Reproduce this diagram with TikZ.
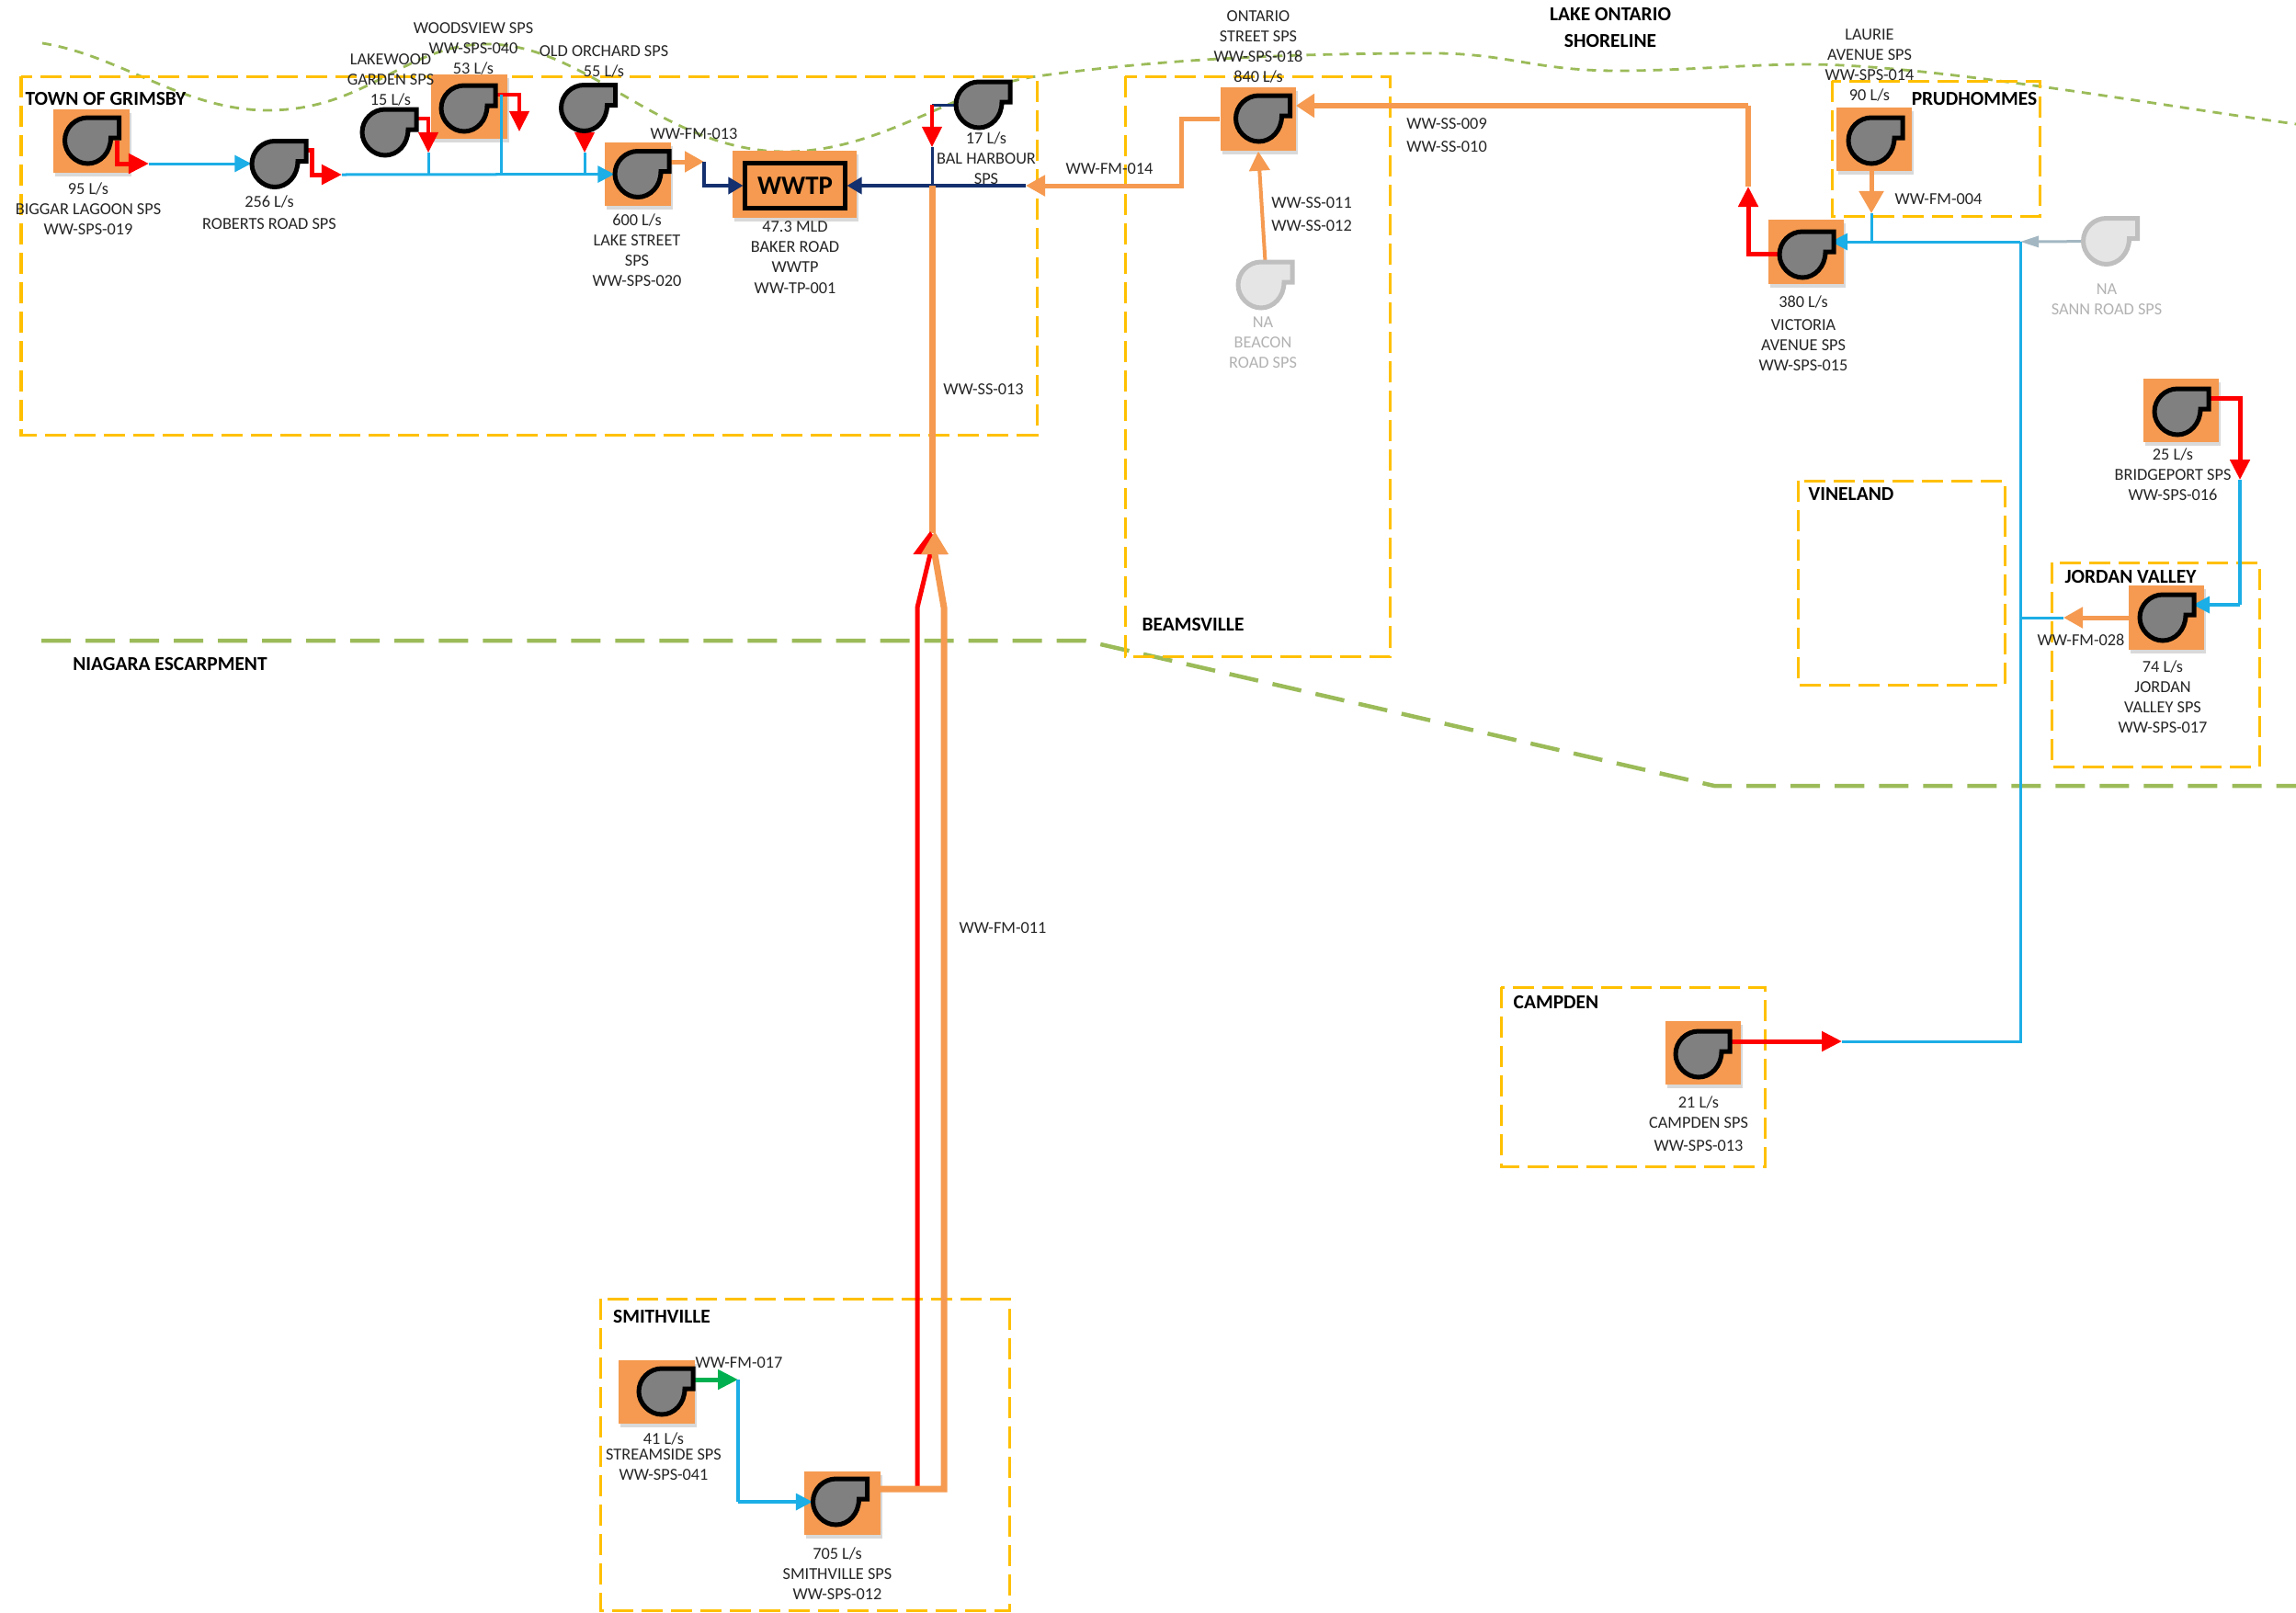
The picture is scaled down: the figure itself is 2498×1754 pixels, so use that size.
\documentclass[tikz,border=0pt]{standalone}
\usepackage{fontspec}
\setmainfont{Carlito}
\usetikzlibrary{arrows.meta,shadows}
\definecolor{pumporange}{HTML}{F59A50}
\definecolor{regionyellow}{HTML}{FFC000}
\definecolor{shoregreen}{HTML}{9BBB59}
\definecolor{pipecyan}{HTML}{1CAEE6}
\definecolor{pipenavy}{HTML}{14306E}
\definecolor{pipegreen}{HTML}{00B050}
\definecolor{pipegrey}{HTML}{A3B7C2}
\tikzset{
  pumpdark/.style={draw=black,fill=black!50,line width=.05cm},
  pumpgrey/.style={draw=black!25,fill=black!10,line width=.05cm},
  pics/pumpglyph/.style={code={
    \draw[#1] (-4.5,-25) -- (29.5,-25) -- (29.5,-3) -- (20.5,-3)
      .. controls (20.5,13) and (9,25) .. (-4.5,25)
      .. controls (-18,25) and (-29.5,13) .. (-29.5,0)
      .. controls (-29.5,-14) and (-18,-25) .. (-4.5,-25) -- cycle;
  }},
  pics/pumpglyph/.default=pumpdark,
  pumpnode/.style={rectangle,inner sep=0,minimum width=.59cm,minimum height=.5cm},
  pumpbox/.style={rectangle,inner sep=0,fill=pumporange,minimum width=.82cm,minimum height=.69cm,
    drop shadow={shadow xshift=.02cm,shadow yshift=-.04cm,opacity=.3}},
  regionbox/.style={draw=regionyellow,line width=.03cm,dash pattern=on .23cm off .09cm},
  sitelabel/.style={align=center,inner sep=0,font=\fontsize{5.2}{6.3}\selectfont,text=black!85},
  greylabel/.style={sitelabel,text=black!30},
  regionlabel/.style={align=center,inner sep=0,font=\fontsize{6.1}{7.4}\selectfont\bfseries},
  redpipe/.style={draw=red,line width=.05cm},
  orangepipe/.style={draw=pumporange,line width=.05cm},
  cyanpipe/.style={draw=pipecyan,line width=.03cm},
  navypipe/.style={draw=pipenavy,line width=.03cm},
  tipred/.style={-{Triangle[length=.22cm,width=.21cm]}},
  tipcyan/.style={-{Triangle[length=.18cm,width=.18cm]}},
  tipnavy/.style={-{Triangle[length=.16cm,width=.18cm]}},
  tiporange/.style={-{Triangle[length=.21cm,width=.22cm]}}
}
\begin{document}
\begin{tikzpicture}[x=.01cm,y=-.01cm]
\useasboundingbox (0,0) rectangle (2498,1754);
\draw[shoregreen,line width=.028cm,dash pattern=on .1cm off .08cm] (46,47) .. controls (130,60) and (200,120) .. (291,120)
  .. controls (400,120) and (440,48) .. (530,48) .. controls (640,48) and (720,165) .. (855,165)
  .. controls (960,165) and (1040,95) .. (1128,83) .. controls (1280,62) and (1430,58) .. (1560,58)
  .. controls (1640,58) and (1670,77) .. (1760,77) .. controls (1830,77) and (1900,70) .. (1965,70)
  .. controls (2100,70) and (2350,115) .. (2498,135);
\draw[shoregreen,line width=.045cm,dash pattern=on .32cm off .16cm] (45,697) -- (1180,697) -- (1865,855) -- (2498,855);
\draw[regionbox] (23,83) rectangle (1128,473);
\draw[regionbox] (1224,83) rectangle (1512,714);
\draw[regionbox] (1993,88) rectangle (2219,235);
\draw[regionbox] (1956,523) rectangle (2181,745);
\draw[regionbox] (2232,612) rectangle (2458,834);
\draw[regionbox] (1633,1074) rectangle (1920,1269);
\draw[regionbox] (653,1413) rectangle (1098,1752);
% orange squares
\node[pumpbox] (biggarbox) at (99.5,153.5) {};
\node[pumpbox] (woodsviewbox) at (510.5,116) {};
\node[pumpbox,minimum width=.72cm] (lakestreetbox) at (694,189.5) {};
\node[pumpbox,minimum width=1.35cm,minimum height=.73cm] (wwtpbox) at (864.5,200.5) {};
\node[pumpbox] (ontariobox) at (1369,129.5) {};
\node[pumpbox] (lauriebox) at (2039,151.5) {};
\node[pumpbox] (victoriabox) at (1964.5,274) {};
\node[pumpbox] (bridgeportbox) at (2373,446.5) {};
\node[pumpbox] (jordanbox) at (2357,672) {};
\node[pumpbox] (streamsidebox) at (714.5,1514.5) {};
\node[pumpbox] (smithvillebox) at (916.5,1635.5) {};
\node[pumpbox] (campdenbox) at (1853,1145) {};
% pumps
\node[pumpnode] (biggar) at (100,153) {};
\node[pumpnode] (roberts) at (303.5,178.5) {};
\node[pumpnode] (lakewood) at (423.5,144) {};
\node[pumpnode] (woodsview) at (509.5,118) {};
\node[pumpnode] (oldorchard) at (640,117.5) {};
\node[pumpnode] (lakestreet) at (698.5,189.5) {};
\node[pumpnode] (balharbour) at (1069.5,114) {};
\node[pumpnode] (ontario) at (1374,129) {};
\node[pumpnode] (beacon) at (1376.5,310) {};
\node[pumpnode] (laurie) at (2040.5,153) {};
\node[pumpnode] (victoria) at (1965.5,277) {};
\node[pumpnode] (sann) at (2296,262.5) {};
\node[pumpnode] (bridgeport) at (2373.5,448) {};
\node[pumpnode] (jordan) at (2357.5,672) {};
\node[pumpnode] (streamside) at (724.5,1514) {};
\node[pumpnode] (smithville) at (914,1634) {};
\node[pumpnode] (campden) at (1852.5,1147) {};
\node[draw=black,line width=.05cm,fill=pumporange,minimum width=1.08cm,minimum height=.48cm,inner sep=0,font=\fontsize{8.2}{10}\selectfont\bfseries] (wwtp) at (865,202) {WWTP};
% junctions
\coordinate (biggarout) at (127,153);
\coordinate (biggarjn) at (162,178);
\coordinate (robertsout) at (330,163);
\coordinate (robertsjn) at (372,190);
\coordinate (lakewoodout) at (450,129);
\coordinate (lakewoodjn) at (466,166);
\coordinate (lakewoodtee) at (466,190);
\coordinate (woodsviewout) at (536,103);
\coordinate (woodsviewend) at (565,143);
\coordinate (woodsviewtap) at (545,103);
\coordinate (woodsviewtee) at (545,190);
\coordinate (orchardjn) at (636,166);
\coordinate (orchardtee) at (636,190);
\coordinate (lakestreetout) at (727,176);
\coordinate (lakestreetjn) at (766,176);
\coordinate (harbourjn) at (1014,160);
\coordinate (harbourtee) at (1014,202);
\coordinate (fm014end) at (1116,202);
\coordinate (fm014bend) at (1285,202);
\coordinate (ssapex) at (1014,580);
\coordinate (victoriaout) at (1938,276);
\coordinate (victoriajn) at (1902,203);
\coordinate (ss009bend) at (1902,115);
\coordinate (ss009end) at (1410,115);
\coordinate (lauriejn) at (2036,232);
\coordinate (laurietee) at (2036,263);
\coordinate (sannjn) at (2198,263);
\coordinate (jordanjn) at (2245,672);
\coordinate (jordantee) at (2198,672);
\coordinate (campdenjn) at (2004,1133);
\coordinate (campdenbend) at (2198,1133);
\coordinate (bridgeportout) at (2400,433);
\coordinate (bridgeportjn) at (2437,522);
\coordinate (bridgeportbend) at (2437,658);
\coordinate (jordanin) at (2386,658);
\coordinate (streamsideout) at (750,1501);
\coordinate (streamsidejn) at (803,1501);
\coordinate (streamsidebend) at (803,1634);
% pipes
\draw[redpipe,tipred] (biggarout) |- (biggarjn);
\draw[cyanpipe,tipcyan] (biggarjn) -- (roberts.west |- biggarjn);
\draw[redpipe,tipred] (robertsout) -| (339,190) -- (robertsjn);
\draw[cyanpipe,tipcyan] (robertsjn) -- (lakestreet);
\draw[redpipe,line width=.04cm,tipred] (lakewoodout) -| (lakewoodjn);
\draw[cyanpipe] (lakewoodjn) -- (lakewoodtee);
\draw[redpipe,line width=.04cm,tipred] (woodsviewout) -| (woodsviewend);
\draw[cyanpipe] (woodsviewtap) -- (woodsviewtee);
\draw[redpipe,line width=.04cm,tipred] (oldorchard |- orchardjn) ++(-4,-28) -- (orchardjn);
\draw[cyanpipe] (orchardjn) -- (orchardtee);
\draw[orangepipe,tiporange] (lakestreetout) -- (lakestreetjn);
\draw[navypipe,line width=.035cm,tipnavy] (lakestreetjn) |- (wwtp.west);
\draw[navypipe,line width=.035cm,tipnavy] (fm014end) -- (wwtp.east);
\draw[orangepipe,tiporange] (ontariobox.west) -| (fm014bend) -- (fm014end);
\draw[orangepipe,line width=.07cm] (harbourtee) -- (ssapex);
\draw[navypipe] (harbourjn) -- (harbourtee);
\draw[pipenavy,line width=.03cm] (balharbour.west) -- (1014,114);
\draw[redpipe,line width=.04cm,tipred] (1014,114) -- (harbourjn);
\draw[redpipe,-{Triangle[length=.25cm,width=.36cm]}] (998,1620) -- (998,661) -- (1012,603) -- (1012,578);
\draw[orangepipe,line width=.07cm,-{Triangle[length=.25cm,width=.28cm]}] (958,1620) -- (1027,1620) -- (1027,661) -- (1017,603) -- (1017,578);
\draw[orangepipe,line width=.04cm,tiporange] (beacon.north) -- (ontariobox.south);
\draw[redpipe,tipred] (victoriaout) -| (victoriajn);
\draw[orangepipe,line width=.06cm] (victoriajn) -- (ss009bend);
\draw[orangepipe,line width=.06cm,-{Triangle[length=.2cm,width=.25cm]}] (ss009bend) -- (ss009end);
\draw[orangepipe,-{Triangle[length=.24cm,width=.26cm]}] (lauriejn |- laurie) -- (lauriejn);
\draw[cyanpipe] (lauriejn) -- (laurietee);
\draw[cyanpipe,tipcyan] (sannjn) -- (1992,263);
\draw[draw=pipegrey,line width=.03cm,-{Triangle[length=.2cm,width=.12cm]}] (sann) -- (sannjn);
\draw[cyanpipe] (sannjn) -- (campdenbend) -- (campdenjn);
\draw[redpipe,tipred] (campden.east |- campdenjn) -- (campdenjn);
\draw[orangepipe,tiporange] (jordan) -- (jordanjn);
\draw[cyanpipe] (jordanjn) -- (jordantee);
\draw[redpipe,tipred] (bridgeportout) -| (bridgeportjn);
\draw[cyanpipe,line width=.035cm] (bridgeportjn) -- (bridgeportbend);
\draw[cyanpipe,line width=.035cm,tipcyan] (bridgeportbend) -- (jordanin);
\draw[draw=pipegreen,line width=.05cm,tipred] (streamsideout) -- (streamsidejn);
\draw[cyanpipe,line width=.035cm] (streamsidejn) -- (streamsidebend);
\draw[cyanpipe,line width=.035cm,tipcyan] (streamsidebend) -- (smithville);
\foreach \pumpname in {biggar,roberts,lakewood,woodsview,oldorchard,lakestreet,balharbour,ontario,laurie,victoria,bridgeport,jordan,streamside,smithville,campden}
  \pic at (\pumpname) {pumpglyph};
\pic at (beacon) {pumpglyph=pumpgrey};
\pic at (sann) {pumpglyph=pumpgrey};
% labels
\node[regionlabel] (grimsbytext) at (115,108) {TOWN OF GRIMSBY};
\node[regionlabel] (beamsvilletext) at (1298,680) {BEAMSVILLE};
\node[regionlabel] (prudhommestext) at (2148,108) {PRUDHOMMES};
\node[regionlabel] (vinelandtext) at (2014,538) {VINELAND};
\node[regionlabel] (jordantext) at (2318,628) {JORDAN VALLEY};
\node[regionlabel] (campdentext) at (1693,1091) {CAMPDEN};
\node[regionlabel] (smithvilletext) at (720,1433) {SMITHVILLE};
\node[regionlabel] (escarpmenttext) at (185,723) {NIAGARA ESCARPMENT};
\node[regionlabel] (shorelinetext) at (1752,30) {LAKE ONTARIO\\[.6pt]SHORELINE};
\node[sitelabel] (biggartext) at (96,227) {95 L/s\\BIGGAR LAGOON SPS\\WW-SPS-019};
\node[sitelabel] (robertstext) at (293,231) {256 L/s\\[.6pt]ROBERTS ROAD SPS};
\node[sitelabel] (lakewoodtext) at (425,87) {LAKEWOOD\\GARDEN SPS\\15 L/s};
\node[sitelabel] (woodsviewtext) at (515,53) {WOODSVIEW SPS\\WW-SPS-040\\53 L/s};
\node[sitelabel] (orchardtext) at (657,67) {OLD ORCHARD SPS\\55 L/s};
\node[sitelabel] (lakestreettext) at (693,272) {600 L/s\\LAKE STREET\\SPS\\WW-SPS-020};
\node[sitelabel] (wwtptext) at (865,280) {47.3 MLD\\BAKER ROAD\\WWTP\\WW-TP-001};
\node[sitelabel] (harbourtext) at (1073,172) {17 L/s\\BAL HARBOUR\\SPS};
\node[greylabel] (beacontext) at (1374,373) {NA\\BEACON\\ROAD SPS};
\node[sitelabel] (ontariotext) at (1369,51) {ONTARIO\\STREET SPS\\WW-SPS-018\\840 L/s};
\node[sitelabel] (laurietext) at (2034,71) {LAURIE\\AVENUE SPS\\WW-SPS-014\\90 L/s};
\node[sitelabel] (victoriatext) at (1962,363) {380 L/s\\[.8pt]VICTORIA\\AVENUE SPS\\WW-SPS-015};
\node[greylabel] (sanntext) at (2292,326) {NA\\SANN ROAD SPS};
\node[sitelabel] (bridgeporttext) at (2364,516) {25 L/s\\BRIDGEPORT SPS\\WW-SPS-016};
\node[sitelabel] (jordanlabel) at (2353,758) {74 L/s\\JORDAN\\VALLEY SPS\\WW-SPS-017};
\node[sitelabel] (streamsidetext) at (722,1585) {41 L/s\\[-1.5pt]STREAMSIDE SPS\\WW-SPS-041};
\node[sitelabel] (smithvillelabel) at (911,1712) {705 L/s\\SMITHVILLE SPS\\WW-SPS-012};
\node[sitelabel] (campdenlabel) at (1848,1223) {21 L/s\\CAMPDEN SPS\\[.8pt]WW-SPS-013};
\node[sitelabel] (fm013) at (755,146) {WW-FM-013};
\node[sitelabel] (fm014) at (1207,184) {WW-FM-014};
\node[sitelabel] (ss013) at (1070,424) {WW-SS-013};
\node[sitelabel] (ss011) at (1427,233) {WW-SS-011\\[.6pt]WW-SS-012};
\node[sitelabel] (ss009) at (1574,147) {WW-SS-009\\[.6pt]WW-SS-010};
\node[sitelabel] (fm004) at (2109,217) {WW-FM-004};
\node[sitelabel] (fm028) at (2264,696) {WW-FM-028};
\node[sitelabel] (fm017) at (804,1483) {WW-FM-017};
\node[sitelabel] (fm011) at (1091,1010) {WW-FM-011};
\end{tikzpicture}
\end{document}
